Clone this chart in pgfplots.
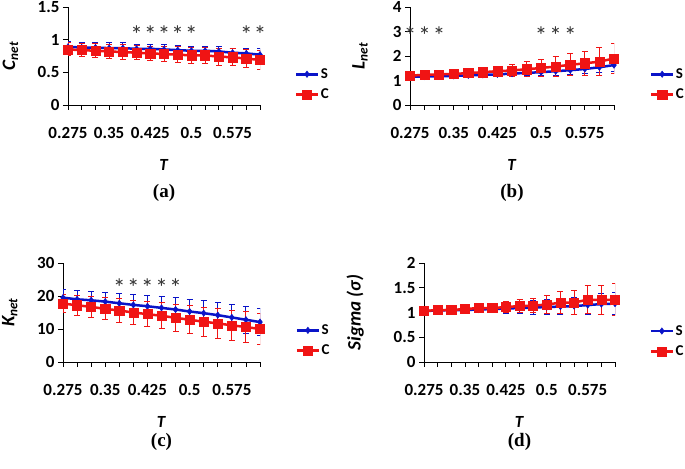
\documentclass[border=0pt]{standalone}
\usepackage{fontspec}
\setmainfont{Carlito}
\newfontfamily\timesb{Liberation Serif}
\usepackage{pgfplots}
\pgfplotsset{compat=1.18}
\definecolor{sblue}{RGB}{10,20,200}
\definecolor{cred}{RGB}{240,20,20}
\definecolor{astc}{RGB}{50,50,50}
\pgfplotsset{
 panel/.style={
  scale only axis,
  anchor=south west,
  axis x line=bottom, axis y line=left,
  axis line style={-, line width=0.9bp},
  xmin=0, xmax=14,
  xtick={0,...,14},
  xticklabels={0.275,,,0.35,,,0.425,,,0.5,,,0.575,,},
  tick align=outside,
  major tick length=5bp,
  tick style={black, line width=0.8bp},
  /pgf/number format/assume math mode=true,
  ticklabel style={font=\fontsize{17bp}{19bp}\selectfont\bfseries},
  xticklabel style={yshift=-14bp},
  xlabel={\textbf{\textit{T}}},
  xlabel style={font=\fontsize{17bp}{19bp}\selectfont},
  ylabel style={font=\fontsize{19bp}{21bp}\selectfont\bfseries\itshape, anchor=center},
  title style={font=\timesb\fontsize{19bp}{21bp}\selectfont\bfseries, anchor=center},
  legend style={draw=none, fill=none, font=\fontsize{15bp}{17bp}\selectfont\bfseries, anchor=west, inner sep=0pt, row sep=6bp, nodes={inner sep=1.5bp}},
  legend cell align=left,
  legend image code/.code={\draw[mark repeat=2,mark phase=2] plot coordinates {(0bp,0bp)(11bp,0bp)(22bp,0bp)};},
 },
 sline/.style={sblue, line width=2.5bp, mark=diamond*, mark size=3.2bp, mark options={solid, fill=sblue, line width=0.5bp},
   error bars/.cd, y dir=both, y explicit, error bar style={line width=1bp, sblue}, error mark options={rotate=90, mark size=3bp, line width=1bp, sblue}},
 cline/.style={cred, line width=2.5bp, mark=square*, mark size=4.6bp, mark options={solid, fill=cred, line width=0.5bp},
   error bars/.cd, y dir=both, y explicit, error bar style={line width=1bp, cred}, error mark options={rotate=90, mark size=3bp, line width=1bp, cred}},
 stars/.style={only marks, mark=none, forget plot, nodes near coords={*}, every node near coord/.append style={anchor=center, text=astc, font=\fontsize{25bp}{27bp}\selectfont}},
}
\begin{document}
\begin{tikzpicture}
\path[use as bounding box] (0,0) rectangle (685bp,469bp);
% (a)
\begin{axis}[panel, at={(68bp,364bp)}, width=192bp, height=98bp,
  ymin=0, ymax=1.5, ytick={0,0.5,1,1.5},
  ylabel={\textit{C}\textsubscript{\textit{net}}},
  ylabel style={at={(axis description cs:-0.30,0.5)}},
  xlabel style={at={(axis description cs:0.5,-0.61)}, anchor=center},
  title={(a)}, title style={at={(axis description cs:0.5,-0.96)}},
  legend style={at={(axis description cs:1.18,0.21)}}]
\addplot[sline] coordinates {
(0,0.89) +- (0,0.08) (1,0.88) +- (0,0.08) (2,0.88) +- (0,0.07) (3,0.87) +- (0,0.08) (4,0.87) +- (0,0.08)
(5,0.86) +- (0,0.07) (6,0.86) +- (0,0.07) (7,0.85) +- (0,0.07) (8,0.84) +- (0,0.07) (9,0.83) +- (0,0.07)
(10,0.83) +- (0,0.07) (11,0.82) +- (0,0.07) (12,0.80) +- (0,0.07) (13,0.79) +- (0,0.08) (14,0.77) +- (0,0.09)};
\addplot[cline] coordinates {
(0,0.85) +- (0,0.10) (1,0.84) +- (0,0.10) (2,0.83) +- (0,0.11) (3,0.82) +- (0,0.11) (4,0.81) +- (0,0.11)
(5,0.80) +- (0,0.11) (6,0.79) +- (0,0.11) (7,0.78) +- (0,0.12) (8,0.77) +- (0,0.12) (9,0.76) +- (0,0.12)
(10,0.76) +- (0,0.12) (11,0.74) +- (0,0.13) (12,0.73) +- (0,0.13) (13,0.71) +- (0,0.14) (14,0.69) +- (0,0.15)};
\addplot[stars] coordinates {(5,1.07) (6,1.07) (7,1.07) (8,1.07) (9,1.07) (13,1.07) (14,1.07)};
\legend{S,C}
\end{axis}
% (b)
\begin{axis}[panel, at={(410bp,364bp)}, width=204bp, height=98bp,
  ymin=0, ymax=4, ytick={0,1,2,3,4},
  ylabel={\textit{L}\textsubscript{\textit{net}}},
  ylabel style={at={(axis description cs:-0.245,0.5)}},
  xlabel style={at={(axis description cs:0.5,-0.61)}, anchor=center},
  title={(b)}, title style={at={(axis description cs:0.5,-0.96)}},
  legend style={at={(axis description cs:1.175,0.21)}}]
\addplot[sline] coordinates {
(0,1.15) +- (0,0.07) (1,1.16) +- (0,0.07) (2,1.17) +- (0,0.08) (3,1.19) +- (0,0.08) (4,1.21) +- (0,0.09)
(5,1.23) +- (0,0.10) (6,1.25) +- (0,0.10) (7,1.28) +- (0,0.11) (8,1.31) +- (0,0.12) (9,1.34) +- (0,0.14)
(10,1.38) +- (0,0.16) (11,1.42) +- (0,0.18) (12,1.47) +- (0,0.20) (13,1.54) +- (0,0.22) (14,1.63) +- (0,0.25)};
\addplot[cline] coordinates {
(0,1.20) +- (0,0.10) (1,1.23) +- (0,0.10) (2,1.25) +- (0,0.10) (3,1.27) +- (0,0.12) (4,1.30) +- (0,0.13)
(5,1.34) +- (0,0.15) (6,1.38) +- (0,0.20) (7,1.41) +- (0,0.25) (8,1.46) +- (0,0.30) (9,1.51) +- (0,0.36)
(10,1.57) +- (0,0.40) (11,1.64) +- (0,0.45) (12,1.70) +- (0,0.48) (13,1.77) +- (0,0.57) (14,1.90) +- (0,0.62)};
\addplot[stars] coordinates {(0,2.82) (1,2.82) (2,2.82) (9,2.82) (10,2.82) (11,2.82)};
\legend{S,C}
\end{axis}
% (c)
\begin{axis}[panel, at={(63bp,107bp)}, width=197bp, height=99bp,
  ymin=0, ymax=30, ytick={0,10,20,30},
  ylabel={\textit{K}\textsubscript{\textit{net}}},
  ylabel style={at={(axis description cs:-0.27,0.5)}},
  xlabel style={at={(axis description cs:0.5,-0.606)}, anchor=center},
  title={(c)}, title style={at={(axis description cs:0.5,-0.87)}},
  legend style={at={(axis description cs:1.18,0.217)}}]
\addplot[sline] coordinates {
(0,19.5) +- (0,2.5) (1,19.0) +- (0,2.6) (2,18.7) +- (0,2.8) (3,18.3) +- (0,2.9) (4,17.8) +- (0,3.1)
(5,17.3) +- (0,3.2) (6,16.9) +- (0,3.3) (7,16.4) +- (0,3.5) (8,15.9) +- (0,3.6) (9,15.3) +- (0,3.7)
(10,14.8) +- (0,3.8) (11,14.2) +- (0,3.9) (12,13.5) +- (0,4.0) (13,12.8) +- (0,4.1) (14,12.1) +- (0,4.2)};
\addplot[cline] coordinates {
(0,17.7) +- (0,2.8) (1,17.2) +- (0,3.0) (2,16.7) +- (0,3.1) (3,16.1) +- (0,3.3) (4,15.6) +- (0,3.5)
(5,15.0) +- (0,3.7) (6,14.5) +- (0,3.8) (7,14.0) +- (0,4.0) (8,13.4) +- (0,4.1) (9,12.8) +- (0,4.2)
(10,12.2) +- (0,4.4) (11,11.7) +- (0,4.6) (12,11.1) +- (0,4.6) (13,10.6) +- (0,4.7) (14,10.0) +- (0,4.8)};
\addplot[stars] coordinates {(4,22.5) (5,22.5) (6,22.5) (7,22.5) (8,22.5)};
\legend{S,C}
\end{axis}
% (d)
\begin{axis}[panel, at={(424bp,107bp)}, width=191bp, height=99bp,
  ymin=0, ymax=2, ytick={0,0.5,1,1.5,2},
  ylabel={Sigma (σ)},
  ylabel style={at={(axis description cs:-0.36,0.5)}},
  xlabel style={at={(axis description cs:0.5,-0.606)}, anchor=center},
  title={(d)}, title style={at={(axis description cs:0.5,-0.87)}},
  legend style={at={(axis description cs:1.18,0.21)}}]
\addplot[sline] coordinates {
(0,1.03) +- (0,0.02) (1,1.04) +- (0,0.03) (2,1.05) +- (0,0.04) (3,1.05) +- (0,0.05) (4,1.06) +- (0,0.07)
(5,1.07) +- (0,0.08) (6,1.08) +- (0,0.10) (7,1.09) +- (0,0.12) (8,1.10) +- (0,0.14) (9,1.11) +- (0,0.16)
(10,1.12) +- (0,0.17) (11,1.13) +- (0,0.18) (12,1.15) +- (0,0.20) (13,1.17) +- (0,0.21) (14,1.18) +- (0,0.22)};
\addplot[cline] coordinates {
(0,1.03) +- (0,0.03) (1,1.05) +- (0,0.03) (2,1.05) +- (0,0.04) (3,1.07) +- (0,0.05) (4,1.09) +- (0,0.07)
(5,1.09) +- (0,0.10) (6,1.11) +- (0,0.12) (7,1.13) +- (0,0.14) (8,1.14) +- (0,0.15) (9,1.16) +- (0,0.18)
(10,1.20) +- (0,0.22) (11,1.20) +- (0,0.24) (12,1.26) +- (0,0.28) (13,1.25) +- (0,0.30) (14,1.26) +- (0,0.32)};
\legend{S,C}
\end{axis}
\end{tikzpicture}
\end{document}
